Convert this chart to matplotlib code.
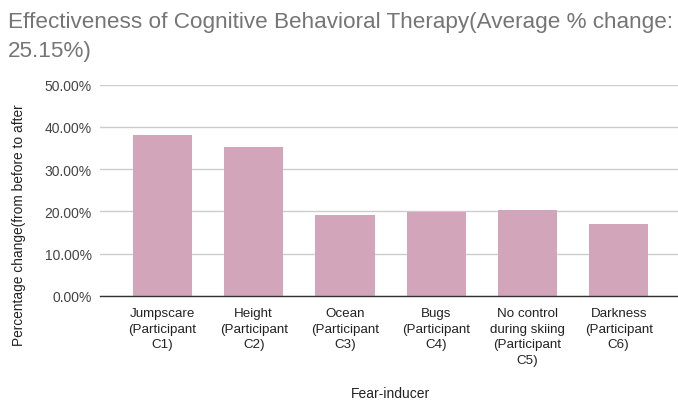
import matplotlib
matplotlib.use("Agg")
import matplotlib.pyplot as plt
from matplotlib.ticker import FuncFormatter

plt.rcParams['font.family'] = ['Liberation Sans', 'DejaVu Sans']

categories = ["Jumpscare\n(Participant\nC1)", "Height\n(Participant\nC2)",
              "Ocean\n(Participant\nC3)", "Bugs\n(Participant\nC4)",
              "No control\nduring skiing\n(Participant\nC5)", "Darkness\n(Participant\nC6)"]
values = [0.381, 0.352, 0.191, 0.198, 0.203, 0.171]
yticks = [0.0, 0.1, 0.2, 0.3, 0.4, 0.5]

fig = plt.figure(figsize=(6.78, 4.02), dpi=100)
ax = fig.add_axes([100/678, 105.3/402, 578/678, 211/402])

x = range(len(values))
ax.bar(x, values, width=0.65, color="#d3a5bb", zorder=3)

ax.set_ylim(0, 0.5)
ax.set_xlim(-0.685, 5.65)
ax.set_yticks(yticks)
ax.yaxis.set_major_formatter(FuncFormatter(lambda v, p: "%.2f%%" % (v * 100)))
ax.set_xticks(list(x))
ax.set_xticklabels(categories, fontsize=9.6, color="#222222", linespacing=1.42)
ax.tick_params(axis='y', length=0, pad=6, labelsize=10, labelcolor="#444444")
ax.tick_params(axis='x', length=0, pad=8)
ax.grid(axis='y', color="#cccccc", linewidth=1, zorder=0)

for s in ['top', 'right', 'left']:
    ax.spines[s].set_visible(False)
ax.spines['bottom'].set_color("#333333")
ax.spines['bottom'].set_linewidth(1)
ax.spines['bottom'].set_zorder(4)

fig.text(8/678, 1 - 12/402, "Effectiveness of Cognitive Behavioral Therapy(Average % change:\n25.15%)",
         fontsize=16.2, color="#757575", ha='left', va='top', linespacing=1.5)
fig.text(19/678, 1 - 225/402, "Percentage change(from before to after", rotation=90,
         fontsize=9.9, color="#222222", ha='center', va='center')
fig.text(390/678, 1 - 394/402, "Fear-inducer", fontsize=10, color="#222222",
         ha='center', va='center')

fig.savefig("out.png", dpi=100)
